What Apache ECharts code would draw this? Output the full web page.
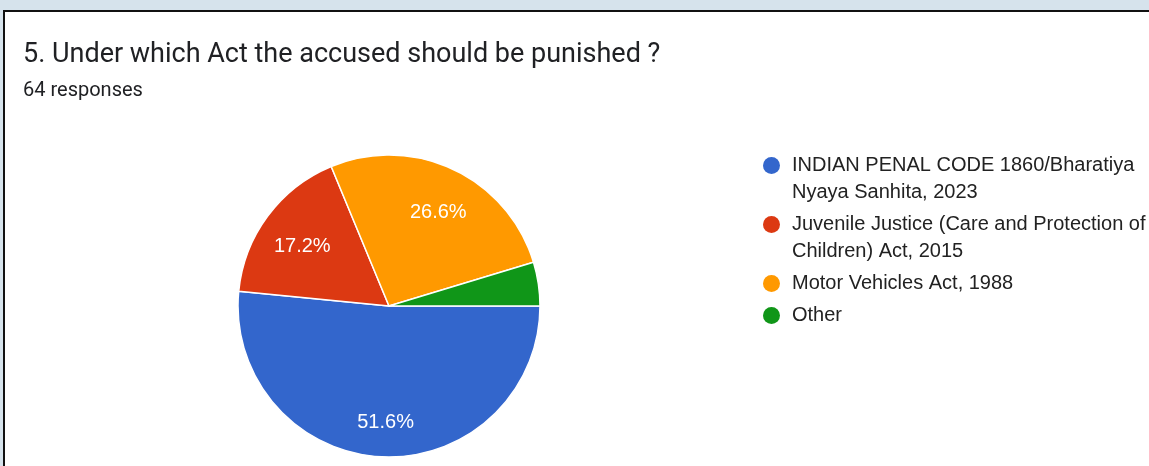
<!DOCTYPE html>
<html>
<head>
<meta charset="utf-8">
<script src="https://cdn.jsdelivr.net/npm/echarts@6/dist/echarts.min.js"></script>
<style>
  html,body{margin:0;padding:0;width:1149px;height:466px;overflow:hidden;background:#d6e3ec;}
  #card{position:absolute;left:3px;top:10px;width:1160px;height:470px;background:#fff;border-left:2px solid #111;border-top:2px solid #111;}
  #main{position:absolute;left:0;top:0;width:1149px;height:466px;}
</style>
</head>
<body>
<div id="card"></div>
<div id="main"></div>
<script>
var question = "5. Under which Act the accused should be punished ?";
var responses = "64 responses";
var names = ["INDIAN PENAL CODE 1860/Bharatiya Nyaya Sanhita, 2023", "Juvenile Justice (Care and Protection of Children) Act, 2015", "Motor Vehicles Act, 1988", "Other"];
var legendLines = [["INDIAN PENAL CODE 1860/Bharatiya", "Nyaya Sanhita, 2023"], ["Juvenile Justice (Care and Protection of", "Children) Act, 2015"], ["Motor Vehicles Act, 1988"], ["Other"]];
var counts = [33, 11, 17, 3];
var colors = ["#3366cc", "#dc3912", "#ff9900", "#109618"];
var dotKeys = ["d0", "d1", "d2", "d3"];

var total = counts.reduce(function(a,b){return a+b;},0);
var pieData = names.map(function(n,i){
    return {name:n, value:counts[i], itemStyle:{color:colors[i]}};
});

var rich = {
    t:{fontSize:20, fontFamily:"Liberation Sans, Arial", color:"#222", lineHeight:27},
    s:{width:12},
    s2:{width:29}
};
dotKeys.forEach(function(k,i){
    rich[k] = {width:17, height:17, borderRadius:8.5, backgroundColor:colors[i]};
});

var myChart = echarts.init(document.getElementById('main'));
var option = {
    animation:false,
    title:[{
        text:question, left:23, top:42, padding:0,
        textStyle:{fontSize:27, fontWeight:"normal", fontFamily:"Roboto", color:"#202124"}
    },{
        text:responses, left:23, top:81, padding:0,
        textStyle:{fontSize:20, fontWeight:"normal", fontFamily:"Roboto", color:"#202124"}
    }],
    legend:{
        orient:"vertical", left:758, top:152, padding:0, itemGap:5,
        icon:"none", itemWidth:0, itemHeight:17, itemStyle:{opacity:0},
        selectedMode:false,
        data:names,
        formatter:function(name){
            var i = names.indexOf(name);
            var lines = legendLines[i];
            var s = "{" + dotKeys[i] + "|}{s|}{t|" + lines[0] + "}";
            for (var j = 1; j < lines.length; j++) s += "\n{s2|}{t|" + lines[j] + "}";
            return s;
        },
        textStyle:{rich:rich, lineHeight:27, padding:0}
    },
    series:[{
        type:"pie",
        center:[389,306], radius:151,
        startAngle:0, clockwise:true,
        itemStyle:{borderColor:"#fff", borderWidth:1.5},
        label:{show:false}, labelLine:{show:false},
        emphasis:{disabled:true},
        data:pieData
    },{
        type:"pie",
        center:[389,306], radius:[64,151],
        startAngle:0, clockwise:true,
        itemStyle:{color:"rgba(0,0,0,0)", borderWidth:0},
        emphasis:{disabled:true}, silent:true,
        label:{
            show:true, position:"inside", offset:[2,6],
            fontSize:20, fontFamily:"Liberation Sans, Arial", color:"#fff",
            formatter:function(p){
                var pct = p.value / total * 100;
                return pct < 10 ? "" : pct.toFixed(1) + "%";
            }
        },
        labelLine:{show:false},
        data:pieData.map(function(d){return {name:d.name, value:d.value};})
    }]
};
myChart.setOption(option);
</script>
</body>
</html>
